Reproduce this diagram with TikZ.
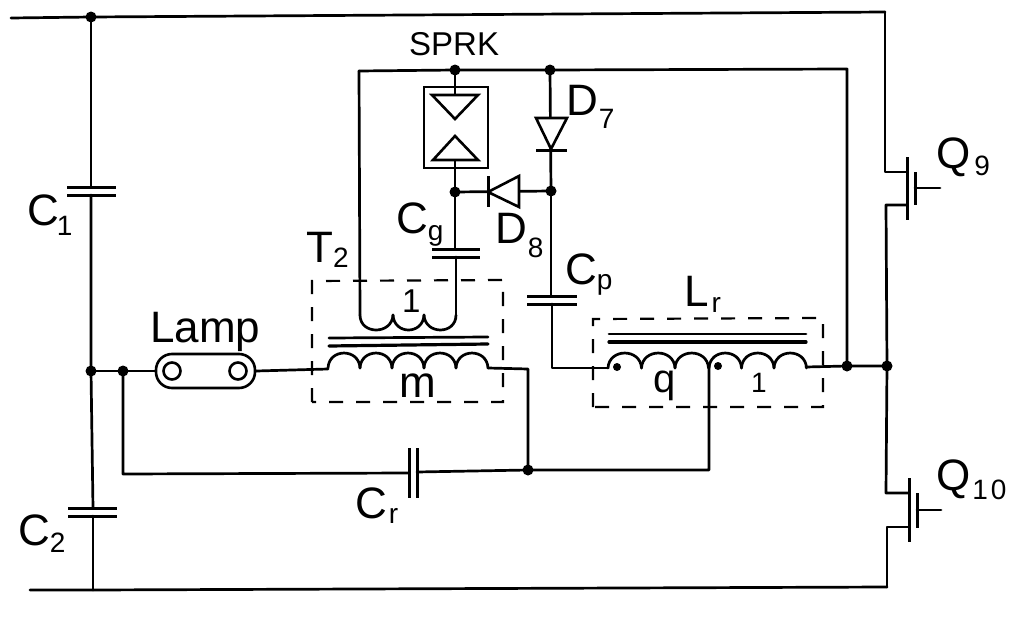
\documentclass[tikz,border=0pt]{standalone}
\usepackage{fontspec}
\setmainfont{Liberation Sans}
% main text, subscript, drop, kern (pt)
\newcommand{\lblsub}[4]{{\fontsize{44}{44}\selectfont #1\hspace*{#4pt}\raisebox{-#3pt}{\fontsize{28}{28}\selectfont #2}}}
\newcommand{\humps}[5]{% start x, y, hump width, height, count
  \foreach \k in {1,...,#5}{
    \draw[wire] ({#1+(\k-1)*#3},#2) .. controls ({#1+(\k-1)*#3+0.03*#3},{#2-1.33*#4}) and ({#1+\k*#3-0.03*#3},{#2-1.33*#4}) .. ({#1+\k*#3},#2);
  }}
\tikzset{
  wire/.style={line width=2.7pt,line join=round,line cap=round},
  dot/.style={circle,fill=black,inner sep=0pt,minimum size=11pt},
  lab/.style={anchor=base west,inner sep=0pt,font=\fontsize{44}{44}\selectfont},
  boxd/.style={line width=2.2pt,dash pattern=on 14pt off 13pt},
  plate/.style={line width=3pt},
  tri/.style={line width=2.6pt,line join=miter,fill=white},
}
\begin{document}
\begin{tikzpicture}[x=1pt,y=-1pt]
\useasboundingbox[fill=white] (0,0) rectangle (1013,621);
% junctions
\node[dot] (ntl) at (91,17) {};
\node[dot] (nl) at (91,371) {};
\node[dot] (nl2) at (123,371) {};
\node[dot] (nsp) at (455,70) {};
\node[dot] (nd7) at (550,70) {};
\node[dot] (ng) at (455,192) {};
\node[dot] (nd) at (551,191) {};
\node[dot] (ncr) at (528,470) {};
\node[dot] (nm1) at (847,366) {};
\node[dot] (nm2) at (887,366) {};
\coordinate (tl) at (11,18);
\coordinate (tr) at (885,12);
\coordinate (bl) at (30,590);
\coordinate (br) at (887,587);
\coordinate (blb) at (93,590);
% rails
\draw[wire] (tl) -- (ntl.center) -- (tr);
\draw[wire] (bl) -- (blb) -- (br);
% C1, C2
\coordinate (c1a) at (91,187); \coordinate (c1b) at (91,195);
\coordinate (c2a) at (93,508); \coordinate (c2b) at (93,516);
\draw[wire] (ntl.center) -- (c1a);
\draw[wire] (c1b) -- (nl.center) -- (c2a);
\draw[wire] (c2b) -- (blb);
\draw[plate] (67,187) -- (116,187) (67,195) -- (116,195);
\draw[plate] (68,508) -- (117,508) (68,516) -- (117,516);
% lamp
\node[draw,line width=2.6pt,rounded corners=16pt,minimum width=99pt,minimum height=34pt,inner sep=0pt] (lamp) at (205.5,371) {};
\node[draw,circle,line width=2.6pt,minimum size=17pt,inner sep=0pt] (e1) at (172,371) {};
\node[draw,circle,line width=2.6pt,minimum size=17pt,inner sep=0pt] (e2) at (238,371) {};
\coordinate (t2a) at (328,369);
\coordinate (t2b) at (488,368);
\coordinate (t2c) at (528,369);
\draw[wire] (nl.center) -- (nl2.center) -- (lamp.west);
\draw[wire] (lamp.east) -- (t2a);
% T2 primary
\humps{328}{368}{32}{15}{5}
\draw[wire] (t2b) -- (t2c) -- (ncr.center);
\draw[wire] (329,338) -- (488,337);
\draw[wire,line width=3.2pt] (329,346) -- (488,344);
% T2 box
\draw[boxd] (312,402) -- (312,281) -- (503,280) -- (503,402) -- cycle;
% T2 secondary
\coordinate (s1) at (359,71);
\coordinate (s2) at (360,315);
\coordinate (s3) at (456,315);
\draw[wire] (s1) -- (s2);
\draw[wire] (s2) .. controls (360,335) and (392,335) .. (393,315);
\draw[wire] (393,315) .. controls (394,335) and (423,335) .. (424,315);
\draw[wire] (424,315) .. controls (425,335) and (456,335) .. (s3);
% top inner wire
\coordinate (rr) at (847,69);
\draw[wire] (s1) -- (nsp.center) -- (nd7.center) -- (rr) -- (nm1.center);
% SPRK
\coordinate (gp1) at (455,249); \coordinate (gp2) at (456,257);
\draw[wire] (ng.center) -- (gp1);
\draw[wire] (gp2) -- (s3);
\draw[plate] (432,249) -- (480,249) (432,257) -- (480,257);
\node[draw,line width=2.6pt,minimum width=64pt,minimum height=81pt,inner sep=0pt] (sprk) at (456,127.5) {};
\draw[wire] (nsp.center) -- (455,95);
\draw[wire] (455,160) -- (ng.center);
\draw[tri] (432,95) -- (478,95) -- (455,119) -- cycle;
\draw[tri] (433,160) -- (478,160) -- (455,136) -- cycle;
% D7
\draw[wire] (nd7.center) -- (nd.center);
\draw[tri] (536,118) -- (567,118) -- (551,149) -- cycle;
\draw[plate] (536,150) -- (567,150);
% D8
\draw[wire] (ng.center) -- (nd.center);
\draw[tri] (519,176) -- (519,207) -- (488,192) -- cycle;
\draw[plate] (488,176) -- (488,207);
% Cp
\coordinate (cp1) at (551,296); \coordinate (cp2) at (552,304);
\coordinate (cp3) at (552,368); \coordinate (lr0) at (608,368);
\draw[wire] (nd.center) -- (cp1);
\draw[wire] (cp2) -- (cp3) -- (lr0);
\draw[plate] (527,296) -- (577,296) (527,304) -- (577,304);
% Lr
\humps{608}{368}{33.5}{15}{3}
\humps{709}{368}{32.5}{15}{3}
\draw[wire] (609,334) -- (806,334);
\draw[wire,line width=3.2pt] (609,342) -- (806,342);
\draw[boxd] (593,407) -- (593,319) -- (823,318) -- (823,407) -- cycle;
\node[dot,minimum size=8pt] (d1) at (617,367) {};
\node[dot,minimum size=8pt] (d2) at (718,366) {};
\coordinate (lr1) at (806,367);
\draw[wire] (lr1) -- (nm1.center) -- (nm2.center);
\coordinate (tap) at (709,364); \coordinate (tapb) at (709,470);
\coordinate (crl) at (123,474);
\coordinate (cr1) at (409,473); \coordinate (cr2) at (417,472);
\draw[wire] (tap) -- (tapb) -- (ncr.center) -- (cr2);
\draw[wire] (cr1) -- (crl) -- (nl2.center);
\draw[plate] (409,448) -- (409,498) (417,448) -- (417,498);
% Q9
\coordinate (q9d) at (885,172); \coordinate (q9e) at (907,172);
\coordinate (q9s) at (907,205); \coordinate (q9f) at (886,205);
\draw[wire] (tr) -- (q9d) -- (q9e);
\draw[wire] (q9s) -- (q9f) -- (nm2.center);
\draw[plate] (907,157) -- (907,220);
\draw[plate] (915,172) -- (915,205);
\draw[wire] (915,188) -- (940,188);
% Q10
\coordinate (q10d) at (886,493); \coordinate (q10e) at (909,493);
\coordinate (q10s) at (909,527); \coordinate (q10f) at (887,527);
\draw[wire] (nm2.center) -- (q10d) -- (q10e);
\draw[wire] (q10s) -- (q10f) -- (br);
\draw[plate] (909,478) -- (909,542);
\draw[plate] (917,493) -- (917,528);
\draw[wire] (917,510) -- (941,510);
% labels
\node[lab] (lc1) at (27,225) {\lblsub{C}{1}{10}{-2}};
\node[lab] (lc2) at (18,545) {\lblsub{C}{2}{7}{0}};
\node[lab] (lcg) at (396,233) {\lblsub{C}{g}{7}{0}};
\node[lab] (lt2) at (306,262) {\lblsub{T}{2}{5}{0}};
\node[lab] (ll) at (150,342) {Lamp};
\node[lab,font=\fontsize{33}{33}\selectfont] (lsp) at (409,56) {SPRK};
\node[lab] (ld7) at (566,115) {\lblsub{D}{7}{13}{1}};
\node[lab] (ld8) at (495,243) {\lblsub{D}{8}{14}{1}};
\node[lab] (lcp) at (565,284) {\lblsub{C}{p}{5}{0}};
\node[lab] (llr) at (684,306) {\lblsub{L}{r}{6}{3}};
\node[lab,font=\fontsize{33}{33}\selectfont] (l1a) at (402,312) {1};
\node[lab] (lm) at (399,397) {m};
\node[lab,font=\fontsize{40}{40}\selectfont] (lq) at (653,392) {q};
\node[lab,font=\fontsize{28}{28}\selectfont] (l1b) at (751,392) {1};
\node[lab] (lcr) at (355,518) {\lblsub{C}{r}{5}{2}};
\node[lab] (lq9) at (936,168) {\lblsub{Q}{9}{7}{4}};
\node[lab] (lq10) at (936,490) {\lblsub{Q}{1\hspace{3pt}0}{9}{2}};
\end{tikzpicture}
\end{document}
